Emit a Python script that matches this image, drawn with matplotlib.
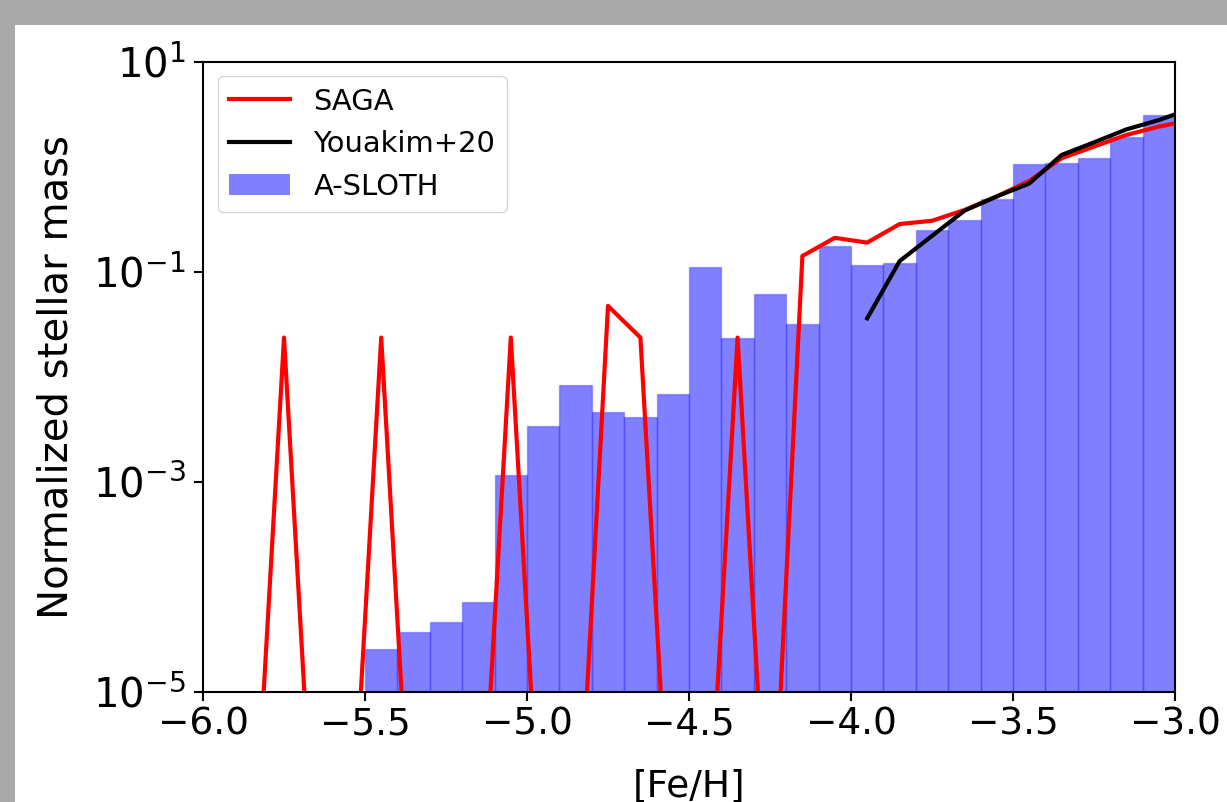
import matplotlib
matplotlib.use("Agg")
import matplotlib.pyplot as plt
from matplotlib.patches import Rectangle, Patch
from matplotlib.lines import Line2D

# A-SLOTH histogram (bin left edges, width 0.1 dex)
asloth_edges = [-5.5, -5.4, -5.3, -5.2, -5.1, -5.0, -4.9, -4.8, -4.7, -4.6,
                -4.5, -4.4, -4.3, -4.2, -4.1, -4.0, -3.9, -3.8, -3.7, -3.6,
                -3.5, -3.4, -3.3, -3.2, -3.1]
asloth_mass = [2.57e-5, 3.76e-5, 4.64e-5, 7.2e-5, 1.16e-3, 3.43e-3, 8.4e-3,
               4.6e-3, 4.1e-3, 6.9e-3, 0.111, 0.0234, 0.0614, 0.032, 0.176,
               0.116, 0.121, 0.249, 0.31, 0.49, 1.06, 1.09, 1.22, 1.92, 3.10]

# SAGA line (bin centres)
saga_feh = [-5.95, -5.85, -5.75, -5.65, -5.55, -5.45, -5.35, -5.25, -5.15,
            -5.05, -4.95, -4.85, -4.75, -4.65, -4.55, -4.45, -4.35, -4.25,
            -4.15, -4.05, -3.95, -3.85, -3.75, -3.65, -3.55, -3.45, -3.35,
            -3.25, -3.15, -3.05, -2.95]
saga_mass = [1e-7, 1e-7, 0.0236, 1e-7, 1e-7, 0.0236, 1e-7, 1e-7, 1e-7,
             0.0236, 1e-7, 1e-7, 0.0472, 0.0236, 1e-7, 1e-7, 0.0236, 1e-7,
             0.141, 0.21, 0.189, 0.284, 0.305, 0.386, 0.52, 0.73, 1.2,
             1.55, 2.0, 2.4, 2.77]

# Youakim+20 line
you_feh = [-3.95, -3.85, -3.75, -3.65, -3.55, -3.45, -3.35, -3.25, -3.15,
           -3.05, -2.95]
you_mass = [0.036, 0.126, 0.219, 0.38, 0.52, 0.69, 1.29, 1.70, 2.26, 2.77, 3.56]

W, H = 1227, 802
fig = plt.figure(figsize=(W / 100, H / 100), dpi=100, facecolor="#aaaaaa")
bg = Rectangle((15 / W, 0), 1, (H - 25) / H, transform=fig.transFigure,
               facecolor="white", edgecolor="none", zorder=-10)
fig.add_artist(bg)

ax = fig.add_axes([203 / W, (H - 692) / H, (1175 - 203) / W, (692 - 61.5) / H])
ax.set_zorder(1)
ax.patch.set_alpha(0.0)

bar_color = (0.0, 0.0, 1.0, 0.5)
ax.bar(asloth_edges, asloth_mass, width=0.1, align="edge", color=bar_color,
       edgecolor=(0.0, 0.0, 1.0, 0.25), linewidth=1.0, zorder=1)
ax.plot(saga_feh, saga_mass, color="red", lw=3.0, zorder=2)
ax.plot(you_feh, you_mass, color="black", lw=3.0, zorder=3)

ax.set_yscale("log")
ax.set_xlim(-6.0, -3.0)
ax.set_ylim(1e-5, 1e1)
ax.set_yticks([1e-5, 1e-3, 1e-1, 1e1])
ax.yaxis.set_minor_locator(matplotlib.ticker.NullLocator())
ax.set_xticks([-6.0, -5.5, -5.0, -4.5, -4.0, -3.5, -3.0])

for s in ax.spines.values():
    s.set_linewidth(1.5)
ax.tick_params(axis="x", which="major", labelsize=27, length=6.5, width=1.5,
               pad=4)
ax.tick_params(axis="y", which="major", labelsize=29, length=6.5, width=1.5,
               pad=6)

ax.set_ylabel("Normalized stellar mass", fontsize=29)
ax.yaxis.set_label_coords(-0.130, 0.5)
ax.set_xlabel("[Fe/H]", fontsize=27)
ax.xaxis.set_label_coords(0.5, -0.12)

handles = [Line2D([], [], color="red", lw=3.0),
           Line2D([], [], color="black", lw=3.0),
           Patch(facecolor=bar_color, edgecolor="none")]
ax.legend(handles, ["SAGA", "Youakim+20", "A-SLOTH"], loc="upper left",
          fontsize=20.9, handlelength=2.1)

fig.savefig("out.png", dpi=100, facecolor=fig.get_facecolor())
